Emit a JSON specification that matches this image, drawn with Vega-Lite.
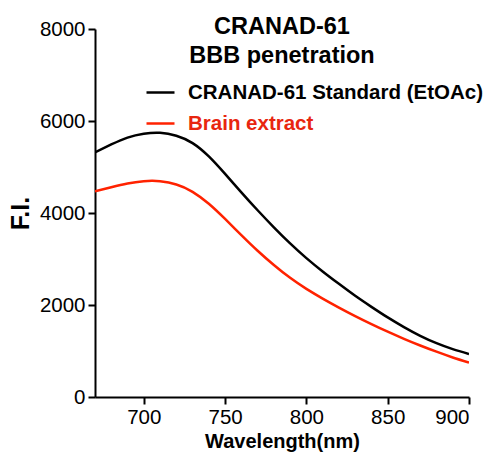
{
  "$schema": "https://vega.github.io/schema/vega-lite/v6.json",
  "autosize": {"type": "none"},
  "width": 374,
  "height": 368,
  "padding": {"left": 95, "top": 29, "right": 18, "bottom": 60},
  "background": "white",
  "config": {
    "view": {"stroke": null},
    "font": "Liberation Sans"
  },
  "title": {
    "text": ["CRANAD-61", "BBB penetration"],
    "anchor": "middle",
    "fontSize": 23.5,
    "fontWeight": "bold",
    "font": "Liberation Sans",
    "color": "black",
    "lineHeight": 29,
    "baseline": "bottom",
    "offset": -72
  },
  "data": {
    "values": [
      {"series": "CRANAD-61 Standard (EtOAc)", "wl": 670, "fi": 5320},
      {"series": "CRANAD-61 Standard (EtOAc)", "wl": 680, "fi": 5490},
      {"series": "CRANAD-61 Standard (EtOAc)", "wl": 690, "fi": 5640},
      {"series": "CRANAD-61 Standard (EtOAc)", "wl": 700, "fi": 5725},
      {"series": "CRANAD-61 Standard (EtOAc)", "wl": 710, "fi": 5745},
      {"series": "CRANAD-61 Standard (EtOAc)", "wl": 720, "fi": 5680},
      {"series": "CRANAD-61 Standard (EtOAc)", "wl": 730, "fi": 5520},
      {"series": "CRANAD-61 Standard (EtOAc)", "wl": 740, "fi": 5230},
      {"series": "CRANAD-61 Standard (EtOAc)", "wl": 750, "fi": 4850},
      {"series": "CRANAD-61 Standard (EtOAc)", "wl": 760, "fi": 4450},
      {"series": "CRANAD-61 Standard (EtOAc)", "wl": 770, "fi": 4060},
      {"series": "CRANAD-61 Standard (EtOAc)", "wl": 780, "fi": 3690},
      {"series": "CRANAD-61 Standard (EtOAc)", "wl": 790, "fi": 3340},
      {"series": "CRANAD-61 Standard (EtOAc)", "wl": 800, "fi": 3020},
      {"series": "CRANAD-61 Standard (EtOAc)", "wl": 810, "fi": 2730},
      {"series": "CRANAD-61 Standard (EtOAc)", "wl": 820, "fi": 2460},
      {"series": "CRANAD-61 Standard (EtOAc)", "wl": 830, "fi": 2200},
      {"series": "CRANAD-61 Standard (EtOAc)", "wl": 840, "fi": 1960},
      {"series": "CRANAD-61 Standard (EtOAc)", "wl": 850, "fi": 1730},
      {"series": "CRANAD-61 Standard (EtOAc)", "wl": 860, "fi": 1520},
      {"series": "CRANAD-61 Standard (EtOAc)", "wl": 870, "fi": 1330},
      {"series": "CRANAD-61 Standard (EtOAc)", "wl": 880, "fi": 1170},
      {"series": "CRANAD-61 Standard (EtOAc)", "wl": 890, "fi": 1040},
      {"series": "CRANAD-61 Standard (EtOAc)", "wl": 900, "fi": 935},
      {"series": "Brain extract", "wl": 670, "fi": 4470},
      {"series": "Brain extract", "wl": 680, "fi": 4560},
      {"series": "Brain extract", "wl": 690, "fi": 4640},
      {"series": "Brain extract", "wl": 700, "fi": 4690},
      {"series": "Brain extract", "wl": 705, "fi": 4700},
      {"series": "Brain extract", "wl": 710, "fi": 4690},
      {"series": "Brain extract", "wl": 720, "fi": 4620},
      {"series": "Brain extract", "wl": 730, "fi": 4460},
      {"series": "Brain extract", "wl": 740, "fi": 4200},
      {"series": "Brain extract", "wl": 750, "fi": 3870},
      {"series": "Brain extract", "wl": 760, "fi": 3520},
      {"series": "Brain extract", "wl": 770, "fi": 3180},
      {"series": "Brain extract", "wl": 780, "fi": 2870},
      {"series": "Brain extract", "wl": 790, "fi": 2590},
      {"series": "Brain extract", "wl": 800, "fi": 2350},
      {"series": "Brain extract", "wl": 810, "fi": 2140},
      {"series": "Brain extract", "wl": 820, "fi": 1945},
      {"series": "Brain extract", "wl": 830, "fi": 1760},
      {"series": "Brain extract", "wl": 840, "fi": 1585},
      {"series": "Brain extract", "wl": 850, "fi": 1420},
      {"series": "Brain extract", "wl": 860, "fi": 1265},
      {"series": "Brain extract", "wl": 870, "fi": 1120},
      {"series": "Brain extract", "wl": 880, "fi": 985},
      {"series": "Brain extract", "wl": 890, "fi": 860},
      {"series": "Brain extract", "wl": 900, "fi": 750}
    ]
  },
  "mark": {"type": "line", "interpolate": "natural", "strokeWidth": 2.5, "clip": true},
  "encoding": {
    "x": {
      "field": "wl",
      "type": "quantitative",
      "scale": {"domain": [670, 900], "nice": false, "zero": false},
      "axis": {
        "title": "Wavelength(nm)",
        "values": [700, 750, 800, 850, 900],
        "grid": false,
        "domainColor": "black",
        "domainWidth": 2,
        "tickColor": "black",
        "tickWidth": 2,
        "tickSize": 7,
        "labelFontSize": 20.5,
        "labelColor": "black",
        "labelPadding": 3,
        "labelFont": "Liberation Sans",
        "titleFont": "Liberation Sans",
        "titleFontSize": 20,
        "titleFontWeight": "bold",
        "titleColor": "black",
        "titlePadding": 4
      }
    },
    "y": {
      "field": "fi",
      "type": "quantitative",
      "scale": {"domain": [0, 8000], "nice": false},
      "axis": {
        "title": "F.I.",
        "values": [0, 2000, 4000, 6000, 8000],
        "format": "d",
        "grid": false,
        "domainColor": "black",
        "domainWidth": 2,
        "tickColor": "black",
        "tickWidth": 2,
        "tickSize": 7,
        "labelFontSize": 20.5,
        "labelColor": "black",
        "labelPadding": 3,
        "labelFont": "Liberation Sans",
        "titleFont": "Liberation Sans",
        "titleFontSize": 25,
        "titleFontWeight": "bold",
        "titleColor": "black",
        "titlePadding": 6
      }
    },
    "color": {
      "field": "series",
      "type": "nominal",
      "scale": {
        "domain": ["CRANAD-61 Standard (EtOAc)", "Brain extract"],
        "range": ["#000000", "#ff2200"]
      },
      "legend": {
        "title": null,
        "orient": "none",
        "legendX": 50,
        "legendY": 48,
        "symbolType": "stroke",
        "symbolSize": 784,
        "symbolStrokeWidth": 2.5,
        "labelFontSize": 20.5,
        "labelFontWeight": "bold",
        "labelFont": "Liberation Sans",
        "labelOffset": 12,
        "rowPadding": 5,
        "labelLimit": 400,
        "encode": {
          "labels": {
            "update": {
              "fill": {"signal": "datum.value === 'Brain extract' ? '#e8260f' : 'black'"}
            }
          }
        }
      }
    }
  }
}
